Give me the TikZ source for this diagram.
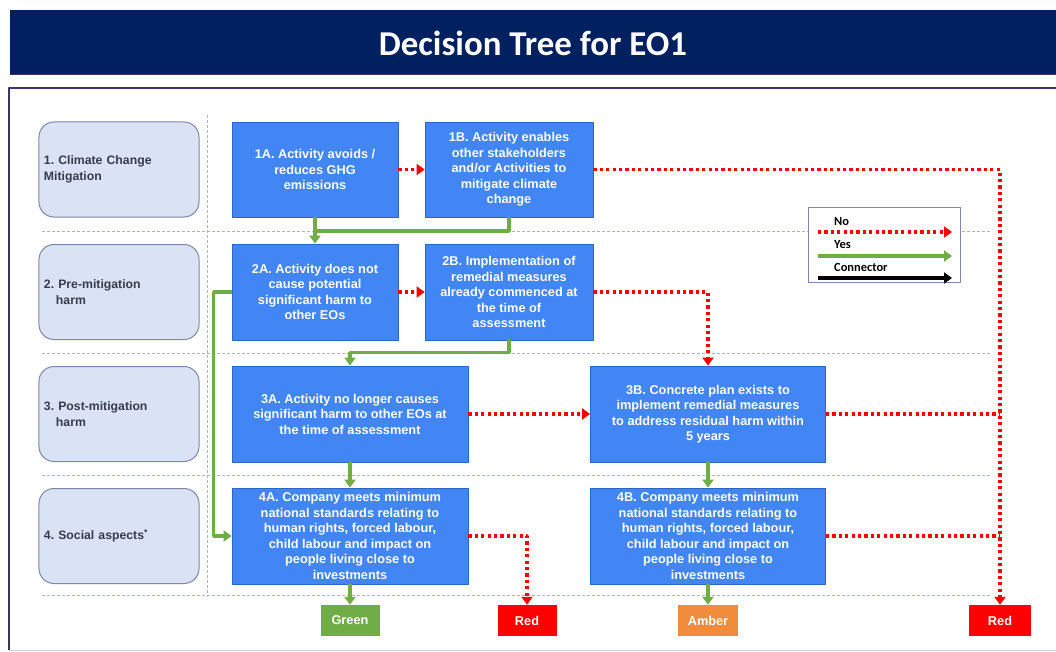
\documentclass[tikz,border=0pt]{standalone}
\usepackage{fontspec}
\setmainfont{Liberation Sans}
\newfontfamily\calfont{Carlito}
\usepackage{tikz}
\usetikzlibrary{arrows.meta, calc, positioning}

\definecolor{navy}{RGB}{0,32,96}
\definecolor{frameline}{RGB}{60,50,110}
\definecolor{boxblue}{RGB}{66,133,244}
\definecolor{boxedge}{RGB}{45,100,200}
\definecolor{lanefill}{RGB}{218,227,243}
\definecolor{laneedge}{RGB}{125,135,170}
\definecolor{lanetext}{RGB}{55,60,75}
\definecolor{sepline}{RGB}{170,180,210}
\definecolor{yesgreen}{RGB}{112,173,71}
\definecolor{ambercol}{RGB}{240,140,60}

\begin{document}
\frenchspacing
\begin{tikzpicture}[x=1bp,y=-1bp,>={Triangle[length=8bp,width=11bp]},line join=bevel,
  box/.style={draw=boxedge,line width=.8bp,fill=boxblue,text=white,align=center,inner sep=2bp,
    font=\bfseries\fontsize{12.8}{15.5}\selectfont},
  lane/.style={draw=laneedge,line width=1bp,fill=lanefill,rounded corners=15bp,text=lanetext,
    minimum width=158bp,minimum height=95bp,text width=150bp,align=left,inner xsep=5bp,
    font=\bfseries\fontsize{12.3}{15.5}\selectfont},
  verdict/.style={text=white,minimum height=31bp,inner sep=0pt,
    font=\bfseries\fontsize{12.8}{14}\selectfont},
  no/.style={draw=red,line width=3.2bp,dash pattern=on 3.2bp off 3.2bp},
  yes/.style={draw=yesgreen,line width=3.5bp},
  sep/.style={draw=sepline,line width=1bp,dash pattern=on 3bp off 2bp}]
  \useasboundingbox (0,0) rectangle (1056,652);
%%
  % Title
  \fill[navy] (10,10) rectangle (1056,75);
  \draw[frameline,line width=1bp] (10,75) -- (1056,75);
  \node[text=white,font=\calfont\bfseries\fontsize{35}{38}\selectfont] (title) at (533,43) {Decision Tree for EO1};
  % Frame
  \draw[frameline,line width=2bp] (1056,88) -- (9,88) -- (9,650);
  \draw[sepline!60,line width=1bp] (9,650) -- (1056,650);
  % Separators
  \draw[sep] (207,115) -- (207,597);
  \foreach \y in {231,353,475,595}
    \draw[sep] (42,\y) -- (990,\y);
  % Node: lanes
  \node[lane] (lane1) at (119,169.5) {1. Climate Change\\Mitigation};
  \node[lane] (lane2) at (119,292) {2. Pre-mitigation\\\hspace*{12bp}harm};
  \node[lane] (lane3) at (119,414) {3. Post-mitigation\\\hspace*{12bp}harm};
  \node[lane] (lane4) at (119,536) {4. Social aspects\textsuperscript{*}};
  % Node: 1A
  \node[box,minimum width=166bp,minimum height=95bp] (1A) at (315,169.5)
    {1A. Activity avoids /\\reduces GHG\\emissions};
  % Node: 1B
  \node[box,minimum width=168bp,minimum height=95bp] (1B) at (509,169.5)
    {1B. Activity enables\\other stakeholders\\and/or Activities to\\mitigate climate\\change};
  % Node: 2A
  \node[box,minimum width=166bp,minimum height=96bp] (2A) at (315,292)
    {2A. Activity does not\\cause potential\\significant harm to\\other EOs};
  % Node: 2B
  \node[box,minimum width=168bp,minimum height=96bp] (2B) at (509,292)
    {2B. Implementation of\\remedial measures\\already commenced at\\the time of\\assessment};
  % Node: 3A
  \node[box,minimum width=236bp,minimum height=96bp] (3A) at (350,414)
    {3A. Activity no longer causes\\significant harm to other EOs at\\the time of assessment};
  % Node: 3B
  \node[box,minimum width=235bp,minimum height=96bp] (3B) at (708,414)
    {3B. Concrete plan exists to\\implement remedial measures\\to address residual harm within\\5 years};
  % Node: 4A
  \node[box,minimum width=236bp,minimum height=96bp] (4A) at (350,536)
    {4A. Company meets minimum\\national standards relating to\\human rights, forced labour,\\child labour and impact on\\people living close to\\investments};
  % Node: 4B
  \node[box,minimum width=235bp,minimum height=96bp] (4B) at (708,536)
    {4B. Company meets minimum\\national standards relating to\\human rights, forced labour,\\child labour and impact on\\people living close to\\investments};
  % Node: outcomes
  \node[verdict,fill=yesgreen,minimum width=59bp] (green) at (350,620.5) {Green};
  \node[verdict,fill=red,minimum width=59bp] (red1) at (527,620.5) {Red};
  \node[verdict,fill=ambercol,minimum width=60bp] (amber) at (708,620.5) {Amber};
  \node[verdict,fill=red,minimum width=62bp] (red2) at (1000,620.5) {Red};
  % Edge: 1A -- 1B
  \draw[no,->] (1A) -- (1B);
  % Edge: 1B -- red2
  \draw[no,->] (1B.east) -| (red2.north);
  % Edge: 1A -- 2A
  \draw[yes,->] (1A) -- (2A);
  % Edge: 1B -- 2A
  \coordinate (j1) at (315,231);
  \draw[yes] (1B.south) |- (j1);
  % Edge: 2A -- 2B
  \draw[no,->] (2A) -- (2B);
  % Edge: 2B -- 3B
  \draw[no,->] (2B.east) -| (3B.north);
  % Edge: 2A -- 4A
  \draw[yes,->] (2A.west) -- ++(-18,0) |- (4A.west);
  % Edge: 2B -- 3A
  \draw[yes,->] (2B.south) -- ++(0,12) -| (3A.north);
  % Edge: 3A -- 3B
  \draw[no,->] (3A) -- (3B);
  % Edge: 3B -- red2
  \draw[no] (3B.east) -- (3B.east -| red2.north);
  % Edge: 3A -- 4A
  \draw[yes,->] (3A) -- (4A);
  % Edge: 3B -- 4B
  \draw[yes,->] (3B) -- (4B);
  % Edge: 4A -- red1
  \draw[no,->] (4A.east) -| (red1.north);
  % Edge: 4B -- red2
  \draw[no] (4B.east) -- (4B.east -| red2.north);
  % Edge: 4A -- green
  \draw[yes,->] (4A) -- (green);
  % Edge: 4B -- amber
  \draw[yes,->] (4B) -- (amber);
  % Legend
  \node[draw=laneedge,fill=white,line width=1bp,minimum width=152bp,minimum height=74bp] (legend) at (884,245) {};
  \begin{scope}[font=\calfont\bfseries\fontsize{12.5}{14}\selectfont]
    \node[anchor=west,inner sep=0pt] (noLabel) at (834,222) {No};
    \node[anchor=west,inner sep=0pt] (yesLabel) at (834,245) {Yes};
    \node[anchor=west,inner sep=0pt] (conLabel) at (834,267) {Connector};
  \end{scope}
  \coordinate (noA) at (818,232);  \coordinate (noB) at (952,232);
  \coordinate (yesA) at (818,256); \coordinate (yesB) at (952,256);
  \coordinate (conA) at (818,278); \coordinate (conB) at (952,278);
  \draw[no,->] (noA) -- (noB);
  \draw[yes,->] (yesA) -- (yesB);
  \draw[black,line width=3.5bp,->] (conA) -- (conB);
%
\end{tikzpicture}
\end{document}
